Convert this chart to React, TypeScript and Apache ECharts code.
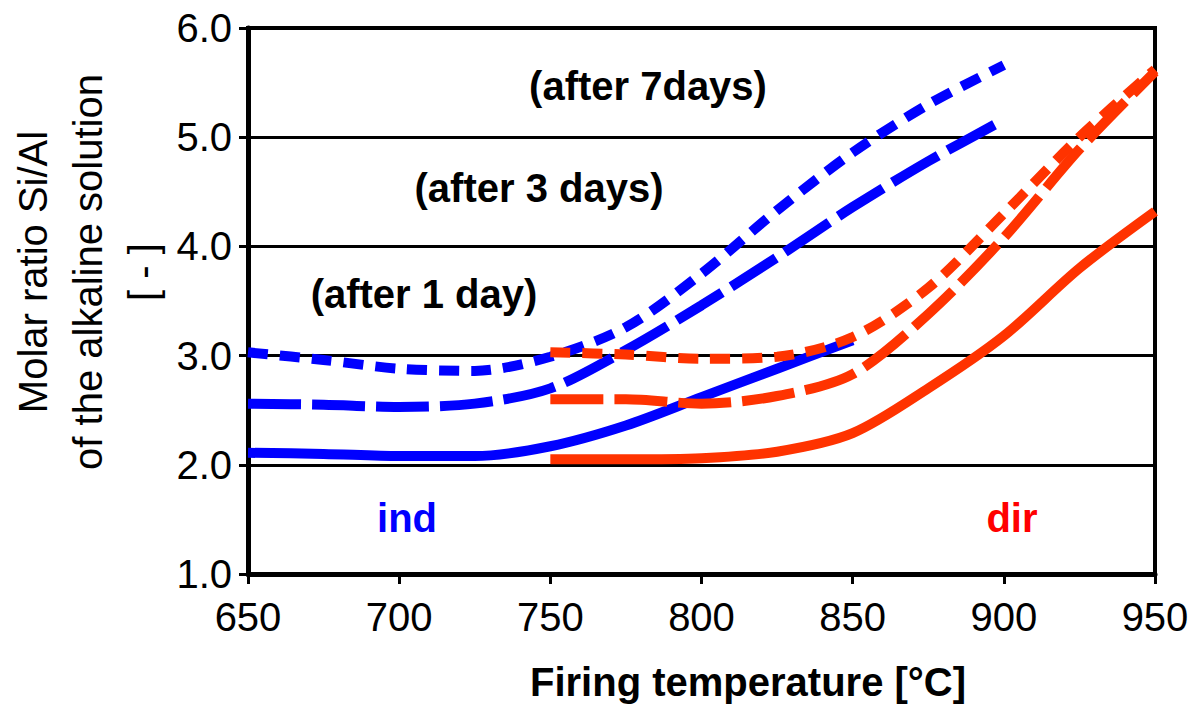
import React, { useEffect, useRef } from "react";
import * as echarts from "echarts";

// Firing temperatures [°C]
const indTemps = [650, 675, 700, 725, 750, 775, 800, 825, 850, 875, 900];
const dirTemps = [750, 775, 800, 825, 850, 875, 900, 925, 950];

// Molar ratio Si/Al, indirect ("ind")
const ind1Day = [2.11, 2.10, 2.08, 2.08, 2.17, 2.36, 2.62, 2.88, 3.14];
const ind3Days = [2.56, 2.55, 2.53, 2.56, 2.70, 3.05, 3.46, 3.90, 4.36, 4.78, 5.16];
const ind7Days = [3.03, 2.96, 2.88, 2.86, 2.99, 3.26, 3.75, 4.33, 4.86, 5.30, 5.66];

// Molar ratio Si/Al, direct ("dir")
const dir1Day = [2.05, 2.05, 2.06, 2.12, 2.29, 2.70, 3.18, 3.80, 4.32];
const dir3Days = [2.60, 2.60, 2.56, 2.63, 2.83, 3.38, 4.08, 4.89, 5.60];
const dir7Days = [3.03, 3.01, 2.97, 2.99, 3.17, 3.62, 4.30, 5.00, 5.62];

const FONT = "'Liberation Sans', Arial, sans-serif";
const BLUE = "#0000FF";
const RED = "#FF3300";
const LONG_DASH = [53, 11];
const SHORT_DASH = [20, 12];

function pairs(xs: number[], ys: number[]) {
  return ys.map((y, i) => [xs[i], y]);
}

function lineSeries(name: string, xs: number[], ys: number[], color: string, dash: any) {
  return {
    name,
    type: "line",
    data: pairs(xs, ys),
    showSymbol: false,
    symbol: "none",
    smooth: 0.3,
    lineStyle: { color, width: 10, type: dash, cap: "butt" },
    emphasis: { disabled: true },
  };
}

function label(text: string, x: number, y: number, color = "#000", bold = true) {
  return {
    type: "text",
    x,
    y,
    style: {
      text,
      x: 0,
      y: 0,
      fill: color,
      fontFamily: FONT,
      fontSize: 40,
      fontWeight: bold ? "bold" : "normal",
      textAlign: "center",
      align: "center",
      textVerticalAlign: "middle",
      verticalAlign: "middle",
    },
  };
}

export default function App() {
  const ref = useRef<HTMLDivElement>(null);

  useEffect(() => {
    if (!ref.current) return;
    const chart = echarts.init(ref.current, undefined, { renderer: "svg" });
    chart.setOption({
      animation: false,
      backgroundColor: "#fff",
      grid: {
        left: 248,
        right: 43,
        top: 28,
        bottom: 130,
        show: true,
        borderColor: "#000",
        borderWidth: 4,
        containLabel: false,
      },
      xAxis: {
        type: "value",
        min: 650,
        max: 950,
        interval: 50,
        axisLine: { show: true, lineStyle: { color: "#000", width: 5 } },
        axisTick: { show: true, length: 10, lineStyle: { color: "#000", width: 3 } },
        axisLabel: { color: "#000", fontSize: 40, fontFamily: FONT, margin: 23 },
        splitLine: { show: false },
      },
      yAxis: {
        type: "value",
        min: 1,
        max: 6,
        interval: 1,
        axisLine: { show: true, lineStyle: { color: "#000", width: 5 } },
        axisTick: { show: true, length: 9, lineStyle: { color: "#000", width: 3 } },
        axisLabel: {
          color: "#000",
          fontSize: 40,
          fontFamily: FONT,
          margin: 16,
          formatter: (v: number) => v.toFixed(1),
        },
        splitLine: { show: true, lineStyle: { color: "#000", width: 3 } },
      },
      series: [
        lineSeries("ind 1 day", indTemps, ind1Day, BLUE, "solid"),
        lineSeries("ind 3 days", indTemps, ind3Days, BLUE, LONG_DASH),
        lineSeries("ind 7 days", indTemps, ind7Days, BLUE, SHORT_DASH),
        lineSeries("dir 1 day", dirTemps, dir1Day, RED, "solid"),
        lineSeries("dir 3 days", dirTemps, dir3Days, RED, LONG_DASH),
        lineSeries("dir 7 days", dirTemps, dir7Days, RED, SHORT_DASH),
      ],
      graphic: [
        label("(after 7days)", 648, 86),
        label("(after 3 days)", 539, 188),
        label("(after 1 day)", 424, 294),
        label("ind", 407, 518, BLUE),
        label("dir", 1012, 518, "#FF0000"),
        label("Firing temperature [°C]", 748, 682),
        {
          type: "text",
          x: 88,
          y: 272,
          rotation: Math.PI / 2,
          style: {
            text: "Molar ratio Si/Al\nof the alkaline solution\n[ - ]",
            x: 0,
            y: 0,
            fill: "#000",
            fontFamily: FONT,
            fontSize: 40,
            lineHeight: 55,
            textAlign: "center",
            align: "center",
            textVerticalAlign: "middle",
            verticalAlign: "middle",
          },
        },
      ],
    });
    return () => chart.dispose();
  }, []);

  return (
    <div
      ref={ref}
      style={{ position: "absolute", left: 0, top: 0, width: 1198, height: 704 }}
    />
  );
}
